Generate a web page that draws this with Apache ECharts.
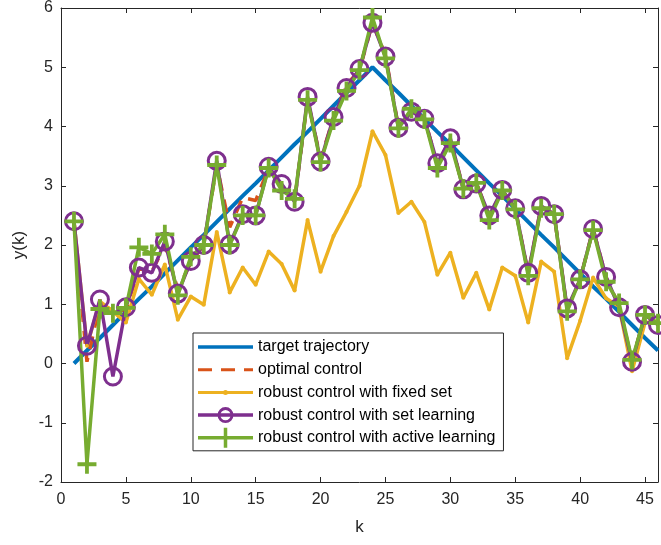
<!DOCTYPE html>
<html>
<head>
<meta charset="utf-8">
<script src="https://cdn.jsdelivr.net/npm/echarts@6/dist/echarts.min.js"></script>
<style>
  html, body { margin: 0; padding: 0; background: #fff; overflow: hidden; }
  #chart { width: 661px; height: 545px; }
</style>
</head>
<body>
<div id="chart"></div>
<script>
// time steps k = 1..46
const steps = Array.from({ length: 46 }, (_, i) => i + 1);

const targetTrajectory = [0, 0.22, 0.43, 0.65, 0.87, 1.09, 1.30, 1.52, 1.74, 1.96, 2.17, 2.39, 2.61, 2.83, 3.04, 3.26, 3.48, 3.70, 3.91, 4.13, 4.35, 4.57, 4.78, 5.00, 4.78, 4.57, 4.35, 4.13, 3.91, 3.70, 3.48, 3.26, 3.04, 2.83, 2.61, 2.39, 2.17, 1.96, 1.74, 1.52, 1.30, 1.09, 0.87, 0.65, 0.43, 0.22];

const optimalControl = [2.4, 0.03, 1.0, 0.9, 0.9, 1.6, 1.55, 2.0, 1.25, 1.7, 2.0, 3.35, 2.3, 2.8, 2.75, 3.3, 3.0, 2.75, 4.45, 3.45, 4.15, 4.7, 4.95, 5.75, 5.2, 4.0, 4.25, 4.15, 3.35, 3.78, 2.95, 3.05, 2.48, 2.92, 2.62, 1.52, 2.65, 2.52, 0.9, 1.42, 2.27, 1.45, 0.98, 0.04, 0.82, 0.66];

const fixedSet = [2.4, 0.3, 1.05, 0.88, 0.69, 1.43, 1.16, 1.67, 0.74, 1.13, 0.99, 2.22, 1.2, 1.62, 1.33, 1.89, 1.68, 1.23, 2.42, 1.55, 2.15, 2.56, 3.0, 3.92, 3.52, 2.54, 2.73, 2.39, 1.5, 1.87, 1.11, 1.53, 0.91, 1.62, 1.48, 0.69, 1.72, 1.55, 0.09, 0.72, 1.45, 1.1, 0.96, -0.13, 0.69, 0.72];

const setLearning = [2.4, 0.3, 1.08, -0.22, 0.95, 1.62, 1.53, 2.06, 1.18, 1.73, 2.0, 3.42, 2.01, 2.52, 2.5, 3.32, 3.03, 2.73, 4.5, 3.41, 4.16, 4.65, 4.97, 5.75, 5.18, 3.98, 4.25, 4.13, 3.38, 3.8, 2.94, 3.04, 2.5, 2.93, 2.62, 1.53, 2.66, 2.52, 0.93, 1.42, 2.27, 1.46, 0.95, 0.03, 0.82, 0.65];

const activeLearning = [2.4, -1.7, 0.92, 0.85, 0.94, 1.96, 1.85, 2.18, 1.15, 1.8, 2.0, 3.35, 2.0, 2.5, 2.5, 3.3, 2.92, 2.78, 4.45, 3.4, 4.1, 4.6, 4.95, 5.84, 5.15, 3.97, 4.3, 4.12, 3.3, 3.72, 2.95, 3.05, 2.42, 2.92, 2.6, 1.48, 2.62, 2.52, 0.88, 1.42, 2.25, 1.38, 1.02, 0.06, 0.82, 0.68];

const seriesNames = [
  'target trajectory',
  'optimal control',
  'robust control with fixed set',
  'robust control with set learning',
  'robust control with active learning'
];

const xTicks = [0, 5, 10, 15, 20, 25, 30, 35, 40, 45];
const yTicks = [-2, -1, 0, 1, 2, 3, 4, 5, 6];

const pair = (ys) => steps.map((k, i) => [k, ys[i]]);

const FONT = 'Liberation Sans, Arial, Helvetica, sans-serif';
const AXIS_COLOR = '#262626';
const COLORS = ['#0072BD', '#D95319', '#EDB120', '#7E2F8E', '#77AC30'];

// plus-shaped marker
const PLUS = 'path://M8,0h4v8h8v4h-8v8h-4v-8h-8v-4h8z';

// legend keys, each drawn in a 55x20 box (the leading moves fix the box)
const BOX = 'M0,0M55,20';
const KEY_LINE = 'M0,8.25h55v3.5h-55z';
const legendIcons = [
  'path://' + BOX + KEY_LINE,
  'path://' + BOX + 'M0,8.5h14v3h-14zM23,8.5h14v3h-14zM46,8.5h9v3h-9z',
  'path://' + BOX + 'M0,8.5h55v3h-55zM25,10a2.5,2.5 0 1,1 5,0a2.5,2.5 0 1,1 -5,0z',
  'path://' + BOX + KEY_LINE +
    'M19.5,10a8,8 0 1,1 16,0a8,8 0 1,1 -16,0z' +
    'M22.3,10a5.2,5.2 0 1,0 10.4,0a5.2,5.2 0 1,0 -10.4,0z',
  'path://' + BOX + KEY_LINE + 'M25.75,0h3.5v20h-3.5z'
];

const axisCommon = {
  type: 'value',
  axisLine: { show: true, onZero: false, lineStyle: { color: AXIS_COLOR, width: 1 } },
  axisTick: { show: true, inside: true, length: 5, lineStyle: { color: AXIS_COLOR } },
  splitLine: { show: false },
  axisLabel: { color: AXIS_COLOR, fontSize: 16, fontFamily: FONT }
};

const chart = echarts.init(document.getElementById('chart'), null, { renderer: 'canvas' });

chart.setOption({
  animation: false,
  backgroundColor: '#fff',
  grid: { left: 61, top: 7, width: 603, height: 475, containLabel: false },
  xAxis: [
    Object.assign({}, axisCommon, {
      position: 'bottom', min: 0, max: 46, interval: 5,
      name: 'k', nameLocation: 'middle', nameGap: 37,
      nameTextStyle: { color: AXIS_COLOR, fontSize: 17, fontFamily: FONT },
      axisLabel: Object.assign({}, axisCommon.axisLabel, {
        margin: 10,
        formatter: (v) => (xTicks.includes(v) ? String(v) : '')
      })
    }),
    Object.assign({}, axisCommon, {
      position: 'top', min: 0, max: 46, interval: 5,
      axisLabel: { show: false }
    })
  ],
  yAxis: [
    Object.assign({}, axisCommon, {
      position: 'left', min: -2, max: 6, interval: 1,
      name: 'y(k)', nameLocation: 'middle', nameGap: 27, nameRotate: 90,
      nameTextStyle: { color: AXIS_COLOR, fontSize: 17, fontFamily: FONT },
      axisLabel: Object.assign({}, axisCommon.axisLabel, {
        margin: 8,
        formatter: (v) => (yTicks.includes(v) ? String(v) : '')
      })
    }),
    Object.assign({}, axisCommon, {
      position: 'right', min: -2, max: 6, interval: 1,
      axisLabel: { show: false }
    })
  ],
  legend: {
    orient: 'vertical',
    left: 193, top: 333,
    padding: [4, 8, 3, 5],
    itemWidth: 55, itemHeight: 20, itemGap: 2.7,
    backgroundColor: '#fff',
    borderColor: AXIS_COLOR, borderWidth: 1,
    itemStyle: { borderWidth: 0 },
    textStyle: { color: '#000', fontSize: 16, fontFamily: FONT, padding: [0, 0, 0, 0] },
    data: seriesNames.map((name, i) => ({
      name,
      icon: legendIcons[i],
      itemStyle: { color: COLORS[i], borderWidth: 0 }
    }))
  },
  series: [
    {
      name: seriesNames[0], type: 'line', data: pair(targetTrajectory),
      showSymbol: false, symbol: 'none',
      lineStyle: { color: COLORS[0], width: 4 }, itemStyle: { color: COLORS[0] }
    },
    {
      name: seriesNames[1], type: 'line', data: pair(optimalControl),
      showSymbol: false, symbol: 'none',
      lineStyle: { color: COLORS[1], width: 3.5, type: [13, 9] }, itemStyle: { color: COLORS[1] }
    },
    {
      name: seriesNames[2], type: 'line', data: pair(fixedSet),
      symbol: 'circle', symbolSize: 4,
      lineStyle: { color: COLORS[2], width: 3.5 }, itemStyle: { color: COLORS[2] }
    },
    {
      name: seriesNames[3], type: 'line', data: pair(setLearning),
      symbol: 'circle', symbolSize: 17,
      lineStyle: { color: COLORS[3], width: 3.5 },
      itemStyle: { color: 'rgba(255,255,255,0)', borderColor: COLORS[3], borderWidth: 3 }
    },
    {
      name: seriesNames[4], type: 'line', data: pair(activeLearning),
      symbol: PLUS, symbolSize: 19,
      lineStyle: { color: COLORS[4], width: 3.5 },
      itemStyle: { color: COLORS[4] }
    }
  ]
});
</script>
</body>
</html>
